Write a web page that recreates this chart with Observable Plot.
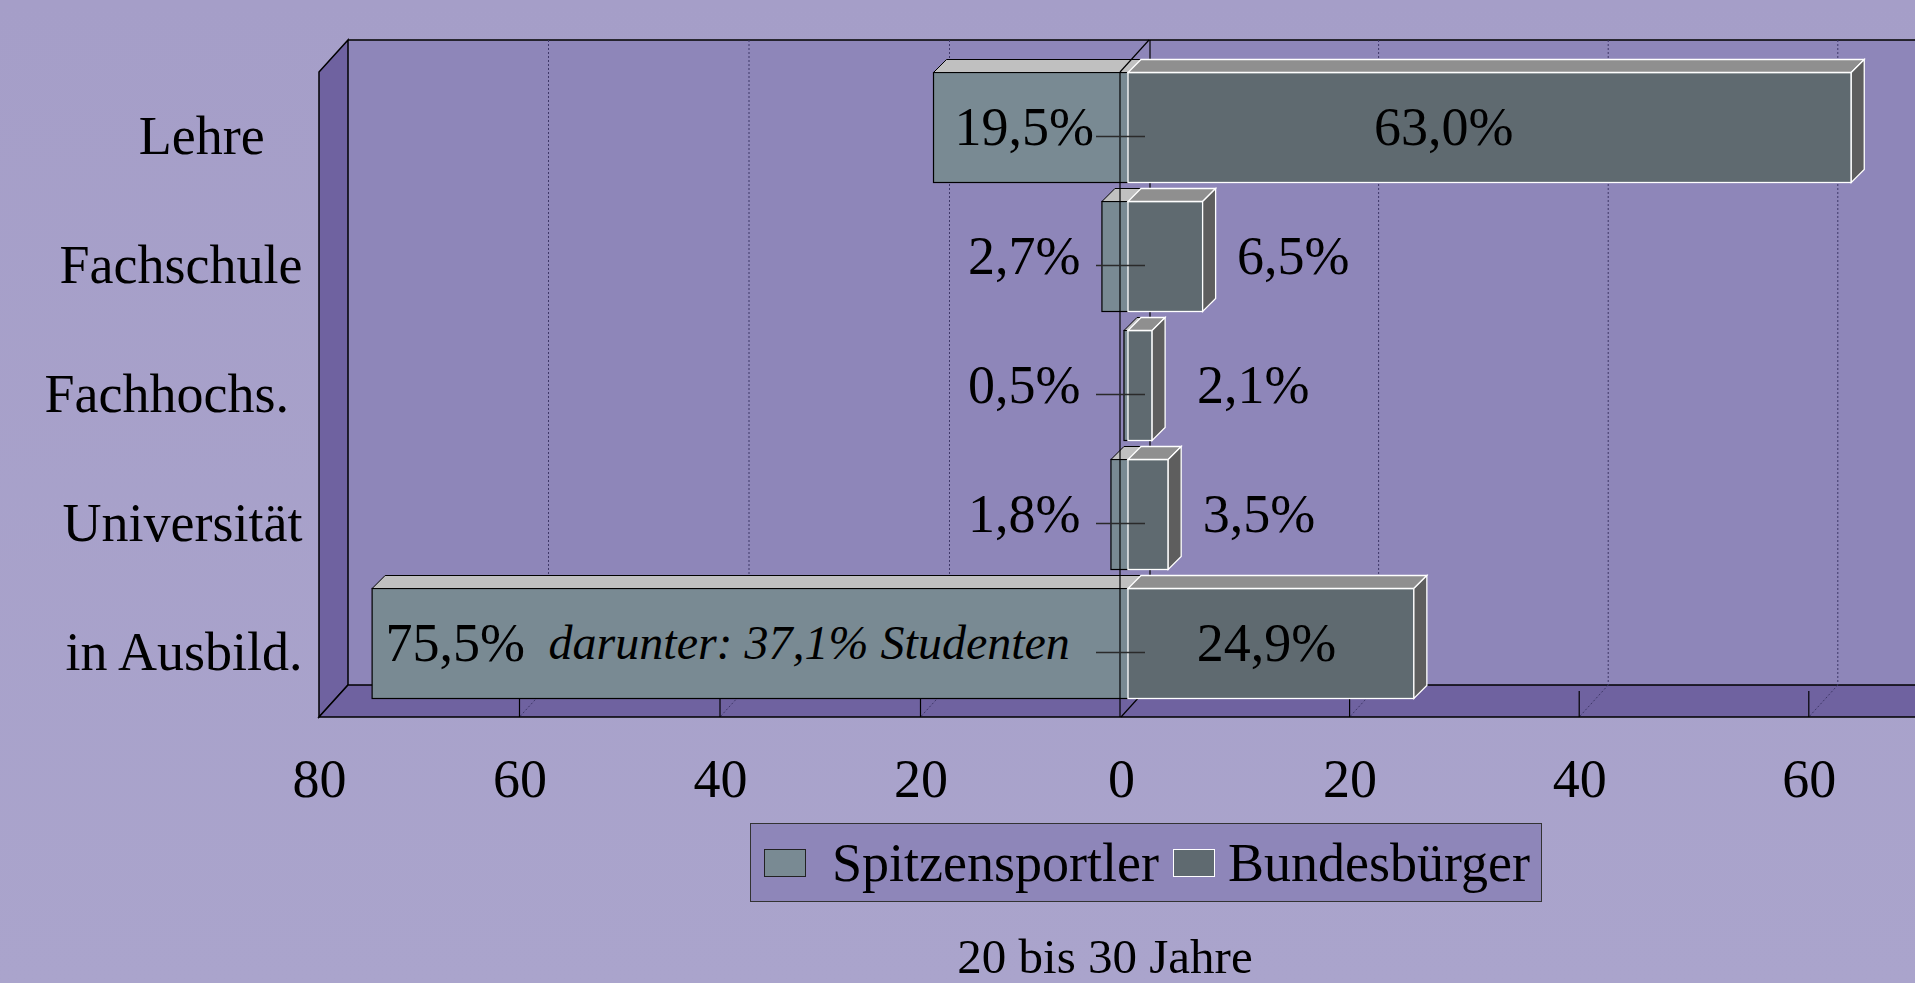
<!DOCTYPE html>
<html>
<head>
<meta charset="utf-8">
<script src="https://cdn.jsdelivr.net/npm/d3@7"></script>
<script src="https://cdn.jsdelivr.net/npm/@observablehq/plot@0.6"></script>
<style>
  html, body { margin: 0; padding: 0; }
  body {
    width: 1915px; height: 983px; overflow: hidden;
    background: linear-gradient(180deg, #a59ec8 0%, #aaa4cc 100%);
    font-family: "Liberation Serif", "Times New Roman", serif;
  }
  #wrap { position: relative; width: 1915px; height: 983px; }
  #wrap svg.layer { position: absolute; left: 0; top: 0; }
  #legend {
    position: absolute; left: 750px; top: 823px; width: 792px; height: 79px;
    box-sizing: border-box; background: #8e86b9; border: 1px solid #333;
    display: flex; align-items: center; padding-left: 13px;
    font-size: 54px; line-height: 1; color: #000; white-space: nowrap;
  }
  #legend .sw { width: 42px; height: 28px; box-sizing: border-box; flex: none; }
  #caption {
    position: absolute; left: 855px; top: 932px; width: 500px; text-align: center;
    font-size: 49px; line-height: 49px; color: #000;
  }
</style>
</head>
<body>
<div id="wrap"></div>
<script>
// ---------- data ----------
const categories = ["Lehre", "Fachschule", "Fachhochs.", "Universität", "in Ausbild."];
const spitzensportler = [19.5, 2.7, 0.5, 1.8, 75.5];
const bundesbuerger = [63.0, 6.5, 2.1, 3.5, 24.9];
const leftTicks = [80, 60, 40, 20, 0];
const rightTicks = [20, 40, 60];
const seriesNames = ["Spitzensportler", "Bundesbürger"];
const note = "darunter: 37,1% Studenten";
const caption = "20 bis 30 Jahre";

// ---------- styling ----------
const COL = {
  wall: "#8e86b9", floor: "#6f62a0",
  spFront: "#798a93", spTop: "#c0c0c0",
  bbFront: "#5f6a70", bbTop: "#8f8f8f", bbSide: "#5e5e5e",
  grid: "#3f3868"
};
const FONT = "'Liberation Serif', 'Times New Roman', serif";
const WALL = {dx: 29, dy: 32};
const BAR = {dx: 8, dy: 9, depth: 13, inset: 9.5};
const TICK_UP = 26;
const padLabel = {"Lehre": "\u00a0\u00a0\u2009", "Fachhochs.": "\u00a0"};

const rows = categories.map((c, i) => ({cat: c, sp: spitzensportler[i], bb: bundesbuerger[i]}));
const fmt = v => v.toFixed(1).replace(".", ",") + "%";

// ---------- helpers ----------
function add(g, tag, attrs) {
  const e = g.append(tag);
  for (const k in attrs) e.attr(k, attrs[k]);
  return e;
}
function poly(g, pts, attrs) {
  return add(g, "polygon", {points: pts.map(p => p.join(",")).join(" "), ...attrs});
}
function seg(g, x1, y1, x2, y2, attrs) {
  return add(g, "line", {x1, y1, x2, y2, ...attrs});
}
const dotted = {stroke: COL.grid, "stroke-width": 1, "stroke-dasharray": "2,2"};
const solid = {stroke: "#000", "stroke-width": 1.2};
function frame(dims) {
  return {top: dims.marginTop, bot: dims.height - dims.marginBottom};
}
function stepOf(y) { return y(categories[1]) - y(categories[0]); }
function gridAt(g, xf, top, bot) {
  seg(g, xf + WALL.dx, top - WALL.dy, xf + WALL.dx, bot - WALL.dy, dotted);
  seg(g, xf + WALL.dx, bot - WALL.dy, xf, bot, dotted);
  seg(g, xf, bot, xf, bot - TICK_UP, solid);
}

// walls, floor, left grid, back zero line (bottom layer)
function leftBackdrop(index, scales, values, dims) {
  const {x} = scales;
  const g = d3.create("svg:g");
  const {top, bot} = frame(dims);
  const W = dims.width + 40;
  const x0 = x(leftTicks[0]), xz = x(0);
  const {dx, dy} = WALL;
  add(g, "rect", {x: x0 + dx, y: top - dy, width: W - (x0 + dx), height: bot - top, fill: COL.wall});
  poly(g, [[x0, top], [x0 + dx, top - dy], [x0 + dx, bot - dy], [x0, bot]], {fill: COL.floor, stroke: "#000", "stroke-width": 1.5});
  poly(g, [[x0, bot], [x0 + dx, bot - dy], [W, bot - dy], [W, bot]], {fill: COL.floor, stroke: "#000", "stroke-width": 1.5});
  seg(g, x0 + dx, top - dy, W, top - dy, {stroke: "#000", "stroke-width": 1.5});
  for (const t of leftTicks.slice(1, -1)) gridAt(g, x(t), top, bot);
  seg(g, xz + dx, top - dy, xz + dx, bot - dy, solid);
  seg(g, xz, bot, xz + dx, bot - dy, solid);
  return g.node();
}

function leftFaces(index, scales) {
  const {x, y} = scales;
  const g = d3.create("svg:g");
  const d = BAR.depth;
  for (const r of rows) {
    const t = y(r.cat) + BAR.inset - BAR.dy;
    const xa = x(r.sp) + BAR.dx, xb = x(0) + BAR.dx;
    poly(g, [[xa, t], [xb, t], [xb + d, t - d], [xa + d, t - d]], {fill: COL.spTop, stroke: "#000", "stroke-width": 1});
  }
  return g.node();
}

function rightGrid(index, scales, values, dims) {
  const {x} = scales;
  const g = d3.create("svg:g");
  const {top, bot} = frame(dims);
  for (const t of rightTicks) gridAt(g, x(t), top, bot);
  return g.node();
}

function rightFaces(index, scales) {
  const {x, y} = scales;
  const g = d3.create("svg:g");
  const d = BAR.depth, step = stepOf(y);
  for (const r of rows) {
    const t = y(r.cat) + BAR.inset - BAR.dy;
    const b = t + step - 2 * BAR.inset;
    const xa = x(0) + BAR.dx, xb = x(r.bb) + BAR.dx;
    poly(g, [[xa, t], [xb, t], [xb + d, t - d], [xa + d, t - d]], {fill: COL.bbTop, stroke: "#fff", "stroke-width": 1.3});
    poly(g, [[xb, t], [xb + d, t - d], [xb + d, b - d], [xb, b]], {fill: COL.bbSide, stroke: "#fff", "stroke-width": 1.3});
  }
  return g.node();
}

function zeroFront(index, scales, values, dims) {
  const {x, y} = scales;
  const g = d3.create("svg:g");
  const {top, bot} = frame(dims);
  const xz = x(0), step = stepOf(y);
  seg(g, xz, top, xz, bot, solid);
  seg(g, xz, top, xz + WALL.dx, top - WALL.dy, solid);
  for (const c of categories) {
    const cy = y(c) + step / 2;
    seg(g, xz - 24, cy, xz + 25, cy, {stroke: "#2a2a2a", "stroke-width": 1.4});
  }
  return g.node();
}

const common = {
  width: 1915, height: 810,
  marginTop: 72, marginBottom: 93,
  style: {background: "transparent", fontFamily: FONT, fontSize: "54px", color: "#000", overflow: "visible"}
};

// ---------- left panel: Spitzensportler ----------
const left = Plot.plot({
  ...common,
  marginLeft: 319, marginRight: 794,
  x: {domain: [leftTicks[0], 0], ticks: leftTicks, tickSize: 0, tickPadding: 41, label: null, tickFormat: d => String(d)},
  y: {domain: categories, padding: 0, tickSize: 0, tickPadding: 17, label: null,
      tickFormat: c => c + (padLabel[c] || "")},
  marks: [
    leftBackdrop,
    Plot.barX(rows, {y: "cat", x1: 0, x2: "sp", insetTop: BAR.inset, insetBottom: BAR.inset,
      dx: BAR.dx, dy: -BAR.dy, fill: COL.spFront, stroke: "#000", strokeWidth: 1.2}),
    leftFaces,
    Plot.text(rows.filter(r => r.sp < 50), {y: "cat", x: 10, text: r => fmt(r.sp),
      dx: 3, dy: -BAR.dy, fontSize: 54, fill: "#000"}),
    Plot.text(rows.filter(r => r.sp >= 50), {y: "cat", x: "sp", text: r => fmt(r.sp),
      textAnchor: "start", dx: 21, dy: -BAR.dy, fontSize: 54, fill: "#000"}),
    Plot.text(rows.filter(r => r.sp >= 50), {y: "cat", x: "sp", text: () => note,
      textAnchor: "start", dx: 184, dy: -BAR.dy, fontSize: 48, fontStyle: "italic", fill: "#000"})
  ]
});

// ---------- right panel: Bundesbürger ----------
const right = Plot.plot({
  ...common,
  marginLeft: 1120, marginRight: 0,
  x: {domain: [0, 69.25], ticks: rightTicks, tickSize: 0, tickPadding: 41, label: null, tickFormat: d => String(d)},
  y: {domain: categories, padding: 0, axis: null},
  marks: [
    rightGrid,
    Plot.barX(rows, {y: "cat", x1: 0, x2: "bb", insetTop: BAR.inset, insetBottom: BAR.inset,
      dx: BAR.dx, dy: -BAR.dy, fill: COL.bbFront, stroke: "#fff", strokeWidth: 1.3}),
    rightFaces,
    Plot.text(rows.filter(r => r.bb >= 10), {y: "cat", x: r => Math.min(r.bb / 2, 27.9), text: r => fmt(r.bb),
      dx: 3, dy: -BAR.dy, fontSize: 54, fill: "#000"}),
    Plot.text(rows.filter(r => r.bb < 10), {y: "cat", x: r => Math.max(r.bb, 3), text: r => fmt(r.bb),
      textAnchor: "start", dx: 42, dy: -BAR.dy, fontSize: 54, fill: "#000"}),
    zeroFront
  ]
});

const wrap = document.getElementById("wrap");
left.classList.add("layer");
right.classList.add("layer");
wrap.appendChild(left);
wrap.appendChild(right);

// ---------- legend & caption ----------
const legend = document.createElement("div");
legend.id = "legend";
legend.innerHTML =
  `<span class="sw" style="background:${COL.spFront};border:1px solid #222;margin-right:26px"></span>` +
  `<span>${seriesNames[0]}</span>` +
  `<span class="sw" style="background:${COL.bbFront};border:1.5px solid #fff;margin-left:14px;margin-right:13px"></span>` +
  `<span>${seriesNames[1]}</span>`;
wrap.appendChild(legend);

const cap = document.createElement("div");
cap.id = "caption";
cap.textContent = caption;
wrap.appendChild(cap);
</script>
</body>
</html>
